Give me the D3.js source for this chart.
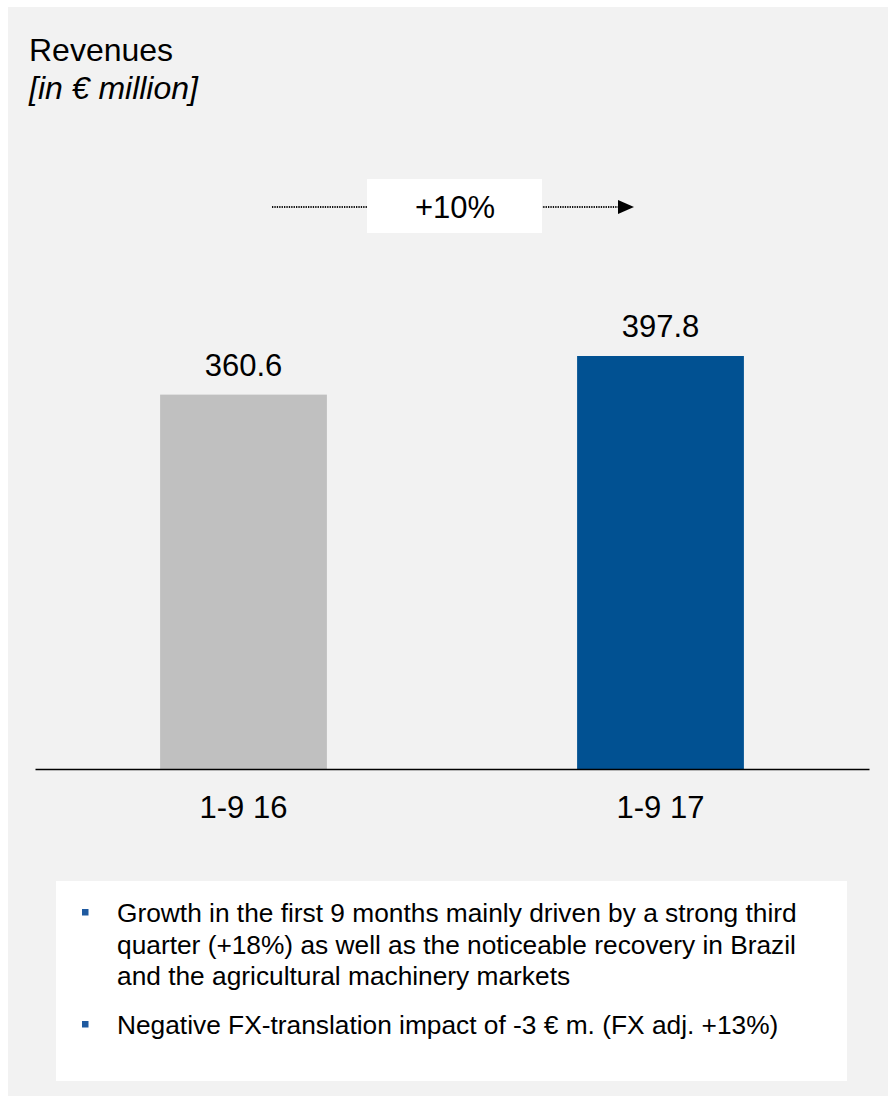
<!DOCTYPE html>
<html lang="en">
<head>
<meta charset="utf-8">
<title>Revenues 1-9</title>
<script src="https://cdn.jsdelivr.net/npm/d3@7"></script>
<style>
  body { margin: 0; background: #fff; }
  svg { display: block; font-family: "Liberation Sans", Arial, sans-serif; }
</style>
</head>
<body>
<script>
// revenues in EUR million
const periods = ["1-9 16", "1-9 17"];
const revenues = [360.6, 397.8];
const barColors = ["#c0c0c0", "#015192"];
const notes = [
  ["Growth in the first 9 months mainly driven by a strong third",
   "quarter (+18%) as well as the noticeable recovery in Brazil",
   "and the agricultural machinery markets"],
  ["Negative FX-translation impact of -3 \u20ac m. (FX adj. +13%)"]
];

const width = 888, height = 1096;
const baseY = 769;

const svg = d3.select("body").append("svg")
  .attr("width", width)
  .attr("height", height);

// grey panel
svg.append("rect")
  .attr("x", 8).attr("y", 7)
  .attr("width", width - 8).attr("height", height - 7)
  .attr("fill", "#f2f2f2");

// title
svg.append("text")
  .attr("x", 29).attr("y", 61)
  .attr("font-size", 32)
  .text("Revenues");
svg.append("text")
  .attr("x", 29).attr("y", 99)
  .attr("font-size", 32)
  .attr("font-style", "italic")
  .text("[in \u20ac  million]");

// scales
const x = d3.scaleBand()
  .domain(periods)
  .range([35, 869])
  .paddingInner(0.6)
  .paddingOuter(0.3);

const y = d3.scaleLinear()
  .domain([0, 397.8])
  .range([baseY, 356]);

// bars
svg.selectAll("rect.bar")
  .data(revenues)
  .enter()
  .append("rect")
  .attr("class", "bar")
  .attr("x", (d, i) => x(periods[i]))
  .attr("y", d => y(d))
  .attr("width", x.bandwidth())
  .attr("height", d => baseY - y(d))
  .attr("fill", (d, i) => barColors[i]);

// value labels
svg.selectAll("text.val")
  .data(revenues)
  .enter()
  .append("text")
  .attr("class", "val")
  .attr("x", (d, i) => x(periods[i]) + x.bandwidth() / 2)
  .attr("y", d => y(d) - 19)
  .attr("text-anchor", "middle")
  .attr("font-size", 31)
  .text(d => d.toFixed(1));

// x axis
const gX = svg.append("g")
  .attr("transform", `translate(0,${baseY})`)
  .call(d3.axisBottom(x).tickSize(0).tickPadding(27));
gX.select(".domain").attr("stroke", "#000").attr("stroke-width", 1.5);
gX.selectAll("text")
  .attr("font-size", 31)
  .attr("font-family", "Liberation Sans, Arial, sans-serif")
  .attr("fill", "#000");

// growth arrow
const growth = Math.round((revenues[1] / revenues[0] - 1) * 100);
const arrowY = 207;
svg.append("line")
  .attr("x1", 272).attr("x2", 620)
  .attr("y1", arrowY).attr("y2", arrowY)
  .attr("stroke", "#111")
  .attr("stroke-width", 1.8)
  .attr("stroke-dasharray", "1.3,1.1");
svg.append("path")
  .attr("d", `M618,${arrowY - 7}L634,${arrowY}L618,${arrowY + 7}Z`)
  .attr("fill", "#000");
svg.append("rect")
  .attr("x", 367).attr("y", 179)
  .attr("width", 175).attr("height", 54)
  .attr("fill", "#fff");
svg.append("text")
  .attr("x", 455).attr("y", 218)
  .attr("text-anchor", "middle")
  .attr("font-size", 31)
  .text("+" + growth + "%");

// notes box
svg.append("rect")
  .attr("x", 56).attr("y", 881)
  .attr("width", 791).attr("height", 200)
  .attr("fill", "#fff");

const firstBase = [922, 1034];
notes.forEach((lines, k) => {
  svg.append("rect")
    .attr("x", 82).attr("y", firstBase[k] - 13)
    .attr("width", 6.5).attr("height", 6.5)
    .attr("fill", "#1f5aa0");
  const t = svg.append("text")
    .attr("x", 117).attr("y", firstBase[k])
    .attr("font-size", 26.3);
  lines.forEach((ln, j) => {
    t.append("tspan")
      .attr("x", 117)
      .attr("y", firstBase[k] + j * 31.5)
      .text(ln);
  });
});
</script>
</body>
</html>
